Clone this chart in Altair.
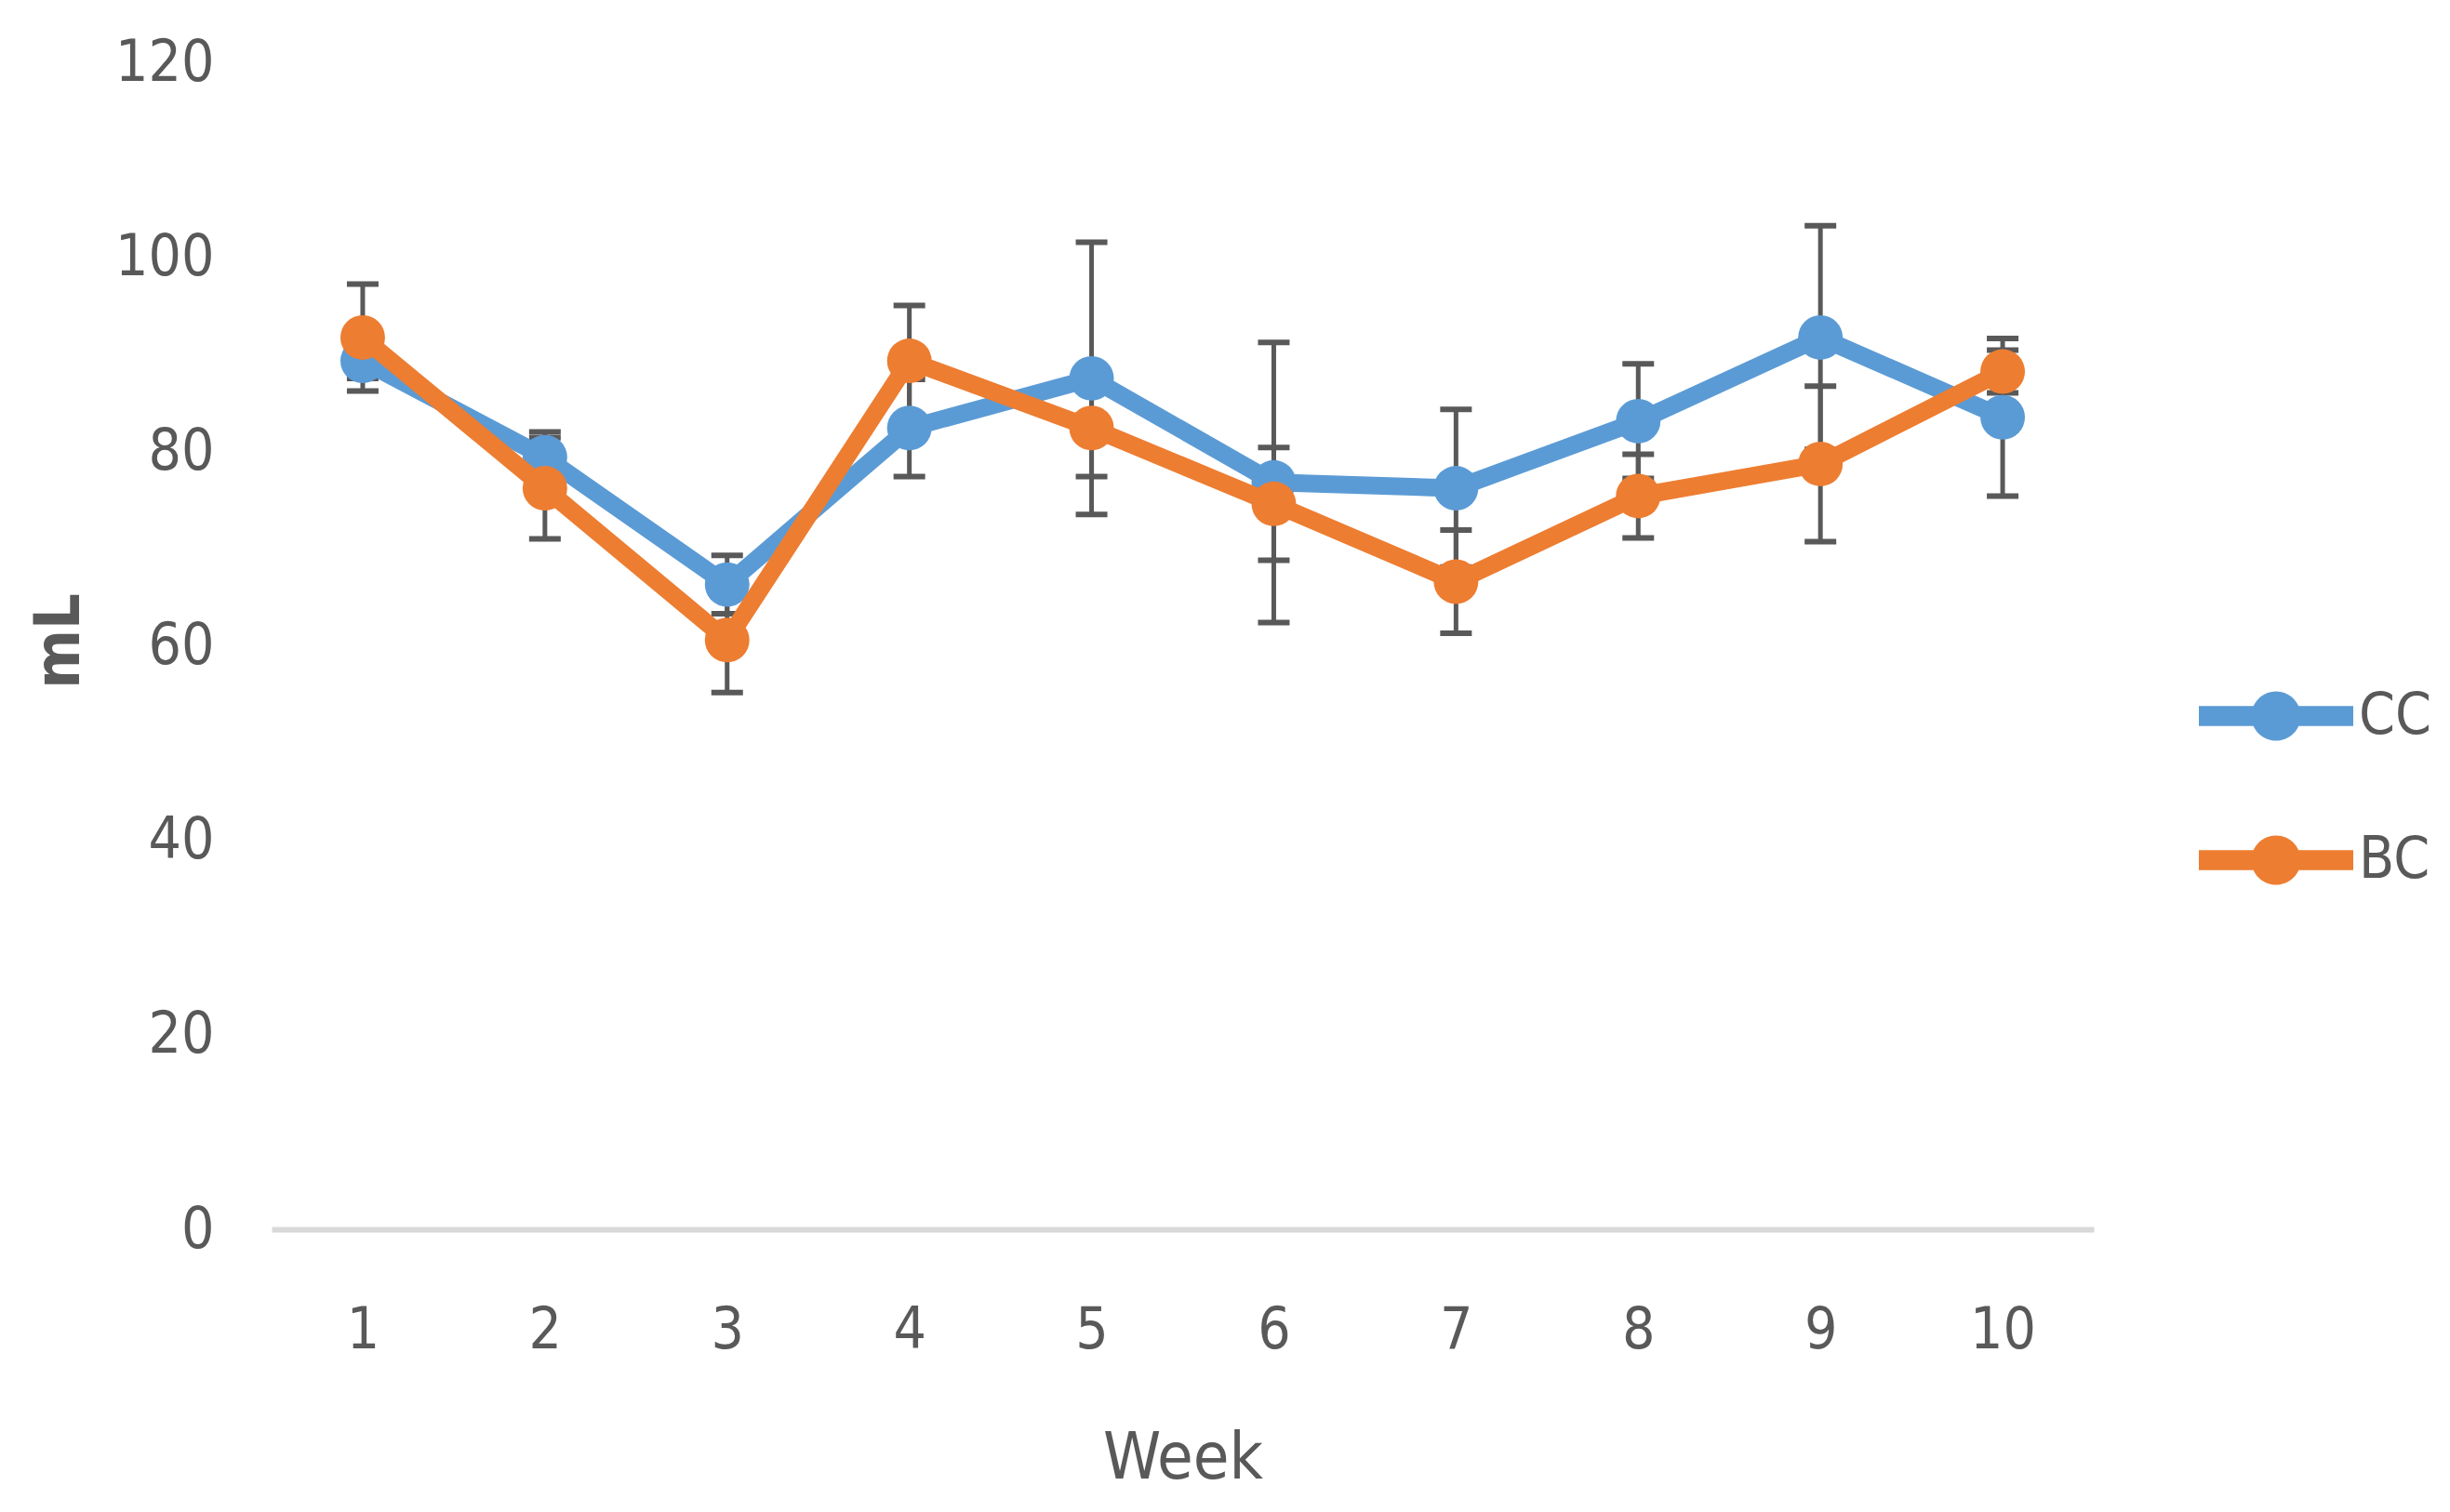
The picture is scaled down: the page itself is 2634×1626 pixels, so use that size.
import altair as alt
import pandas as pd

weeks = [1, 2, 3, 4, 5, 6, 7, 8, 9, 10]
cc_mean = [89.3, 79.4, 66.3, 82.4, 87.5, 76.8, 76.2, 83.1, 91.7, 83.5]
cc_err = [1.8, 2.6, 3.0, 5.0, 14.0, 14.4, 8.1, 5.9, 11.5, 8.1]
bc_mean = [91.7, 76.2, 60.6, 89.3, 82.4, 74.6, 66.6, 75.4, 78.7, 88.2]
bc_err = [5.5, 5.2, 5.4, 5.7, 5.0, 5.8, 5.3, 4.3, 8.0, 2.2]
series_names = ["CC", "BC"]
series_colors = ["#5B9BD5", "#ED7D31"]
y_ticks = [0, 20, 40, 60, 80, 100, 120]

rows = []
for name, means, errs in [("CC", cc_mean, cc_err), ("BC", bc_mean, bc_err)]:
    for w, m, e in zip(weeks, means, errs):
        rows.append({"week": w, "series": name, "mean": m, "err": e})
df = pd.DataFrame(rows)

FONT = "Liberation Sans Narrow, DejaVu Sans Condensed, sans-serif"
GREY = "#595959"

x_enc = alt.X(
    "week:Q",
    scale=alt.Scale(domain=[0.5, 10.5], nice=False, zero=False),
    axis=alt.Axis(
        values=weeks, format="d", grid=False, ticks=False,
        domainColor="#D9D9D9", domainWidth=6,
        labelFontSize=62, labelColor=GREY, labelFont=FONT,
        labelBaseline="middle", labelPadding=108,
        title="Week", titleFontSize=70, titleFontWeight="normal",
        titleColor=GREY, titleFont=FONT, titleY=246, titleBaseline="middle",
    ),
)
y_scale = alt.Scale(domain=[0, 120], nice=False)
y_axis = alt.Axis(
    values=y_ticks, grid=False, ticks=False, domain=False,
    labelFontSize=62, labelColor=GREY, labelFont=FONT, labelPadding=62,
    title="mL", titleFontSize=68, titleFontWeight="bold", titleColor=GREY,
    titleFont=FONT, titleX=-228, titleY=622, titleBaseline="middle", titleAlign="center",
)

base = alt.Chart(df).transform_calculate(
    lo="datum.mean - datum.err", hi="datum.mean + datum.err"
)

rules = base.mark_rule(color=GREY, strokeWidth=5).encode(
    x=x_enc, y=alt.Y("lo:Q", scale=y_scale, axis=y_axis), y2="hi:Q"
)
cap_lo = base.mark_tick(orient="horizontal", size=34, thickness=6, color=GREY, opacity=1).encode(
    x="week:Q", y="lo:Q"
)
cap_hi = base.mark_tick(orient="horizontal", size=34, thickness=6, color=GREY, opacity=1).encode(
    x="week:Q", y="hi:Q"
)

color_scale = alt.Scale(domain=series_names, range=series_colors)
legend_path = (
    "M-1,-0.13 L1,-0.13 L1,0.13 L-1,0.13 Z "
    "M-0.32,0 A0.32,0.32 0 1,1 0.32,0 A0.32,0.32 0 1,1 -0.32,0 Z"
)
legend = alt.Legend(
    title=None, orient="none", legendX=2072, legendY=620,
    symbolType=legend_path, symbolSize=27556, symbolStrokeWidth=0,
    labelFontSize=62, labelColor=GREY, labelFont=FONT, labelOffset=6,
    rowPadding=41, padding=0, symbolOpacity=1,
)

layers = [rules, cap_lo, cap_hi]
for name, col in zip(series_names, series_colors):
    sub = base.transform_filter(alt.datum.series == name)
    line = sub.mark_line(strokeWidth=19, color=col).encode(
        x="week:Q", y="mean:Q",
    )
    pts = sub.mark_point(filled=True, size=2300, opacity=1, shape="circle").encode(
        x="week:Q", y="mean:Q",
        fill=alt.Fill("series:N", scale=color_scale, legend=legend),
    )
    layers += [line, pts]

chart = alt.layer(*layers).properties(
    width=1959, height=1255,
    padding={"left": 284, "top": 59, "right": 375, "bottom": 296},
    autosize=alt.AutoSizeParams(type="none"),
    background="white",
).configure_view(stroke=None)

chart.save("out.html", embed_options={"renderer": "svg", "actions": False})
